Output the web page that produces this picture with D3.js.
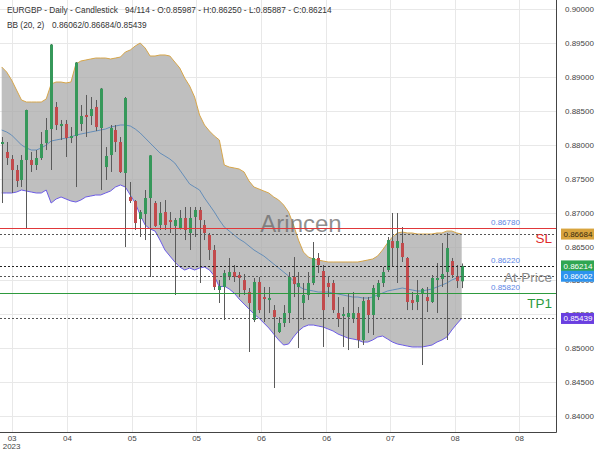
<!DOCTYPE html>
<html><head><meta charset="utf-8">
<script src="https://cdn.jsdelivr.net/npm/d3@7"></script>
<style>body{margin:0;background:#fff;} svg{display:block;font-family:"Liberation Sans",Arial,sans-serif;}</style>
</head><body><svg id="c" width="600" height="450"></svg>
<script>
// ---- data ----
const opens=[0.88013,0.87895,0.87791,0.87629,0.87482,0.87777,0.87777,0.87703,0.87806,0.88027,
0.88234,0.88559,0.88278,0.88308,0.88101,0.88131,0.88308,0.88441,0.88426,0.88559,
0.88249,0.87673,0.87850,0.88219,0.88042,0.87585,0.87231,0.87172,0.86906,0.86980,
0.87216,0.87142,0.86818,0.87009,0.86891,0.86803,0.86773,0.86921,0.86700,0.86936,
0.87039,0.86818,0.86670,0.86449,0.85859,0.85903,0.86050,0.86124,0.86080,0.86006,
0.85829,0.85416,0.85977,0.85755,0.85711,0.85563,0.85239,0.85372,0.85519,0.86050,
0.85903,0.85667,0.85785,0.85962,0.86331,0.86139,0.85962,0.85962,0.85519,0.85475,
0.85460,0.85431,0.85519,0.85121,0.85711,0.85490,0.85755,0.85962,0.86154,0.86581,
0.86478,0.86552,0.86331,0.85711,0.85682,0.85814,0.85755,0.85682,0.86006,0.86021,
0.86124,0.86286,0.86065,0.85987];
const highs=[0.88116,0.88042,0.87850,0.87703,0.87850,0.88520,0.87895,0.87924,0.88190,0.88396,
0.89488,0.88632,0.88367,0.88367,0.88263,0.89222,0.88588,0.88736,0.88706,0.88662,
0.88839,0.87968,0.88293,0.88293,0.88116,0.88706,0.87452,0.87186,0.87039,0.87334,
0.87850,0.87172,0.87157,0.87186,0.87009,0.86921,0.87039,0.87083,0.87083,0.87083,
0.87083,0.86891,0.86700,0.86522,0.86006,0.86154,0.86331,0.86227,0.86124,0.86095,
0.85888,0.86036,0.86050,0.85903,0.85903,0.85637,0.85460,0.85637,0.86124,0.86345,
0.86124,0.85962,0.86124,0.86567,0.86404,0.86227,0.86050,0.86006,0.85755,0.85608,
0.85814,0.85829,0.85608,0.85755,0.85755,0.85932,0.86006,0.86198,0.86641,0.86995,
0.86995,0.86788,0.86345,0.85829,0.86006,0.85888,0.85903,0.86080,0.86257,0.86552,
0.86700,0.86331,0.86227,0.86250];
const lows=[0.87142,0.87703,0.87290,0.87378,0.87378,0.86773,0.87600,0.87629,0.87777,0.87924,
0.87629,0.88219,0.88072,0.87821,0.88027,0.87378,0.88204,0.88116,0.88293,0.88204,
0.87334,0.87482,0.87600,0.87895,0.87585,0.86493,0.87142,0.86744,0.86641,0.86596,
0.86050,0.86788,0.86744,0.86744,0.86700,0.85785,0.86750,0.86596,0.86449,0.86641,
0.85962,0.86596,0.86301,0.85859,0.85667,0.85416,0.86006,0.85977,0.85755,0.85785,
0.84944,0.85386,0.85519,0.85386,0.85519,0.84413,0.85224,0.85313,0.85372,0.85755,
0.85003,0.85416,0.85711,0.85932,0.86109,0.85018,0.85755,0.85519,0.85313,0.85018,
0.84973,0.85372,0.85003,0.85047,0.85224,0.85195,0.85711,0.85903,0.86124,0.86198,
0.85962,0.86272,0.85563,0.85563,0.85563,0.84752,0.85534,0.85667,0.85519,0.85903,
0.85121,0.86036,0.85888,0.85887];
const closes=[0.88042,0.87806,0.87629,0.87467,0.87777,0.88514,0.87703,0.87806,0.88013,0.88219,
0.89480,0.88293,0.88308,0.88101,0.88131,0.89215,0.88426,0.88411,0.88529,0.88263,
0.88830,0.87836,0.88249,0.88042,0.87600,0.88691,0.87172,0.86847,0.87009,0.87216,
0.87845,0.86803,0.86995,0.86818,0.86862,0.86891,0.86921,0.86744,0.86921,0.87039,
0.86891,0.86700,0.86449,0.85903,0.85918,0.86109,0.86124,0.86050,0.86036,0.85859,
0.85667,0.85977,0.85563,0.85726,0.85741,0.85460,0.85372,0.85519,0.86050,0.85947,
0.85962,0.85785,0.85962,0.86331,0.86227,0.85563,0.85903,0.85563,0.85431,0.85504,
0.85519,0.85519,0.85121,0.85696,0.85490,0.85888,0.85962,0.86124,0.86596,0.86478,
0.86581,0.86345,0.85682,0.85667,0.85785,0.85873,0.85696,0.86036,0.86036,0.86095,
0.86478,0.86080,0.85991,0.86214];
const bbUpper=[0.89149,0.89075,0.88957,0.88809,0.88662,0.88632,0.88632,0.88632,0.88632,0.88677,
0.88898,0.88927,0.88927,0.88913,0.88927,0.89193,0.89237,0.89252,0.89267,0.89281,
0.89281,0.89281,0.89267,0.89281,0.89296,0.89370,0.89400,0.89459,0.89503,0.89429,
0.89311,0.89311,0.89326,0.89326,0.89311,0.89222,0.89134,0.88986,0.88868,0.88706,
0.88441,0.88293,0.88204,0.88131,0.88072,0.87703,0.87673,0.87659,0.87644,0.87600,
0.87467,0.87378,0.87349,0.87319,0.87290,0.87231,0.87186,0.87113,0.87009,0.86818,
0.86596,0.86419,0.86345,0.86316,0.86301,0.86286,0.86272,0.86272,0.86272,0.86272,
0.86272,0.86272,0.86272,0.86286,0.86301,0.86316,0.86360,0.86449,0.86552,0.86641,
0.86700,0.86714,0.86700,0.86700,0.86685,0.86685,0.86685,0.86685,0.86700,0.86700,
0.86729,0.86729,0.86700,0.86684];
const bbMiddle=[0.88219,0.88190,0.88145,0.88072,0.87998,0.87954,0.87924,0.87924,0.87954,0.87998,
0.88057,0.88072,0.88086,0.88101,0.88116,0.88145,0.88160,0.88175,0.88190,0.88204,
0.88219,0.88234,0.88263,0.88278,0.88293,0.88293,0.88278,0.88234,0.88175,0.88101,
0.88027,0.87954,0.87880,0.87836,0.87791,0.87732,0.87629,0.87526,0.87422,0.87378,
0.87334,0.87216,0.87113,0.87009,0.86891,0.86788,0.86729,0.86670,0.86611,0.86567,
0.86508,0.86449,0.86404,0.86360,0.86301,0.86242,0.86183,0.86124,0.86065,0.85991,
0.85918,0.85873,0.85859,0.85844,0.85829,0.85829,0.85829,0.85814,0.85800,0.85785,
0.85770,0.85755,0.85755,0.85741,0.85741,0.85755,0.85785,0.85814,0.85844,0.85859,
0.85873,0.85888,0.85873,0.85859,0.85844,0.85844,0.85859,0.85873,0.85903,0.85932,
0.85962,0.86006,0.86036,0.86062];
const bbLower=[0.87290,0.87290,0.87290,0.87304,0.87334,0.87319,0.87304,0.87290,0.87290,0.87334,
0.87142,0.87201,0.87231,0.87201,0.87172,0.87157,0.87186,0.87231,0.87245,0.87260,
0.87260,0.87290,0.87319,0.87378,0.87408,0.87378,0.87260,0.87142,0.86965,0.86818,
0.86759,0.86729,0.86596,0.86449,0.86360,0.86272,0.86198,0.86154,0.86183,0.86154,
0.86183,0.86198,0.86154,0.86065,0.85903,0.85918,0.85873,0.85814,0.85726,0.85652,
0.85578,0.85504,0.85445,0.85372,0.85298,0.85209,0.85121,0.85047,0.85062,0.85165,
0.85254,0.85313,0.85342,0.85342,0.85327,0.85313,0.85283,0.85254,0.85209,0.85180,
0.85150,0.85136,0.85121,0.85091,0.85091,0.85121,0.85165,0.85180,0.85136,0.85091,
0.85062,0.85047,0.85032,0.85018,0.85018,0.85018,0.85032,0.85047,0.85091,0.85121,
0.85165,0.85268,0.85357,0.85439];
const xTickPos=[2,13.2,26.3,39.3,52.4,65.6,78.5,91.6,104.6];
const xTickLabels=["03","04","05","05","06","06","07","08","08"];
const xYearLabel="2023";
const yTicks=[0.84,0.845,0.85,0.855,0.86,0.865,0.87,0.875,0.88,0.885,0.89,0.895,0.90];
const slLevel=0.8678, entryLevel=0.8622, tpLevel=0.8582;

// ---- layout ----
const plotR=556, plotB=432;
const x=d3.scaleLinear().domain([0,93]).range([1.7,461.7]);
const y=d3.scaleLinear().domain([0.84,0.90]).range([416,9.3]);
const svg=d3.select("#c");
const fmt=d3.format(".5f");
const px=v=>Math.round(y(v))+0.5;
const idx=d3.range(opens.length);

// grid
const grid=svg.append("g");
grid.selectAll(".hg").data(yTicks).join("line").attr("x1",0).attr("x2",plotR)
  .attr("y1",px).attr("y2",px).attr("stroke","#e8e8e8");
grid.selectAll(".vg").data(xTickPos).join("line").attr("y1",0).attr("y2",plotB)
  .attr("x1",d=>Math.round(x(d))+0.5).attr("x2",d=>Math.round(x(d))+0.5).attr("stroke","#e8e8e8");

// bollinger band
svg.append("path").datum(idx)
  .attr("d",d3.area().x(i=>x(i)).y0(i=>y(bbLower[i])).y1(i=>y(bbUpper[i])))
  .attr("fill","#a6a6a6").attr("fill-opacity",0.72);
const ln=(arr)=>d3.line().x(i=>x(i)).y(i=>y(arr[i]));
svg.append("path").datum(idx).attr("d",ln(bbUpper)).attr("fill","none").attr("stroke","#d7a64a").attr("stroke-width",1);
svg.append("path").datum(idx).attr("d",ln(bbLower)).attr("fill","none").attr("stroke","#6c5be6").attr("stroke-width",1);
svg.append("path").datum(idx).attr("d",ln(bbMiddle)).attr("fill","none").attr("stroke","#5a88b8").attr("stroke-width",0.9);

// watermark
svg.append("text").attr("x",301).attr("y",232).attr("text-anchor","middle")
  .attr("font-size",24).attr("fill","#6a6a6a").attr("fill-opacity",0.75).text("Arincen");

// candles
const cg=svg.append("g");
idx.forEach(i=>{
  const cx=Math.round(x(i));
  const up=closes[i]>=opens[i];
  cg.append("line").attr("x1",cx+0.5).attr("x2",cx+0.5).attr("y1",y(highs[i])).attr("y2",y(lows[i]))
    .attr("stroke","#5a5a5a").attr("stroke-width",1);
  const top=y(Math.max(opens[i],closes[i])), bot=y(Math.min(opens[i],closes[i]));
  cg.append("rect").attr("x",cx-1).attr("width",3).attr("y",top).attr("height",Math.max(1.2,bot-top))
    .attr("fill",up?"#36985a":"#c24a4c");
});

// level lines
const lv=svg.append("g");
const hline=(v,color,dash)=>lv.append("line").attr("x1",0).attr("x2",plotR).attr("y1",px(v)).attr("y2",px(v))
  .attr("stroke",color).attr("stroke-width",1).attr("stroke-dasharray",dash||null);
hline(bbUpper[bbUpper.length-1],"#555","2,2");
hline(bbMiddle[bbMiddle.length-1],"#555","2,2");
hline(bbLower[bbLower.length-1],"#555","2,2");
hline(entryLevel,"#222","2,2");
hline(slLevel,"#e0383a");
hline(tpLevel,"#2e9a3e");
const vlab=v=>lv.append("text").attr("x",491).attr("y",y(v)-2.4).attr("font-size",8).attr("fill","#5b86e5").text(fmt(v));
vlab(slLevel); vlab(entryLevel); vlab(tpLevel);
lv.append("text").attr("x",552).attr("y",y(slLevel)+15).attr("text-anchor","end").attr("font-size",13.5).attr("fill","#e02a2a").text("SL");
lv.append("text").attr("x",552).attr("y",y(entryLevel)+16).attr("text-anchor","end").attr("font-size",13.5).attr("fill","#8a8a8a").text("At-Price");
lv.append("text").attr("x",552).attr("y",y(tpLevel)+15.5).attr("text-anchor","end").attr("font-size",13.5).attr("fill","#2a9a3e").text("TP1");

// axes
const yAxis=svg.append("g").attr("transform",`translate(${plotR},0)`)
  .call(d3.axisRight(y).tickValues(yTicks).tickFormat(fmt).tickSize(0).tickPadding(9));
yAxis.select(".domain").remove();
yAxis.selectAll("text").attr("font-size",8).attr("fill","#444").attr("font-family","Liberation Sans,Arial,sans-serif");
const xAxis=svg.append("g").attr("transform",`translate(0,${plotB})`)
  .call(d3.axisBottom(x).tickValues(xTickPos).tickFormat((d,i)=>xTickLabels[i]).tickSize(0).tickPadding(3));
xAxis.select(".domain").remove();
xAxis.selectAll("text").attr("font-size",8).attr("fill","#444").attr("font-family","Liberation Sans,Arial,sans-serif");
svg.append("text").attr("x",x(xTickPos[0])).attr("y",449).attr("text-anchor","middle")
  .attr("font-size",8).attr("fill","#444").text(xYearLabel);
svg.append("line").attr("x1",plotR+0.5).attr("x2",plotR+0.5).attr("y1",0).attr("y2",plotB+0.5).attr("stroke","#444");
svg.append("line").attr("x1",0).attr("x2",plotR+0.5).attr("y1",plotB+0.5).attr("y2",plotB+0.5).attr("stroke","#444");

// price badges
const n=closes.length-1;
const badges=[
  {v:bbUpper[n],bg:"#d8a43e",fg:"#3a2a10"},
  {v:closes[n],bg:"#2fa652",fg:"#fff"},
  {v:bbMiddle[n],bg:"#2d93ee",fg:"#fff"},
  {v:bbLower[n],bg:"#6a3fe0",fg:"#fff"}];
const bg=svg.append("g");
badges.forEach(b=>{
  bg.append("rect").attr("x",561).attr("y",y(b.v)-5.5).attr("width",33).attr("height",11).attr("fill",b.bg);
  bg.append("text").attr("x",563.5).attr("y",y(b.v)+3).attr("font-size",8).attr("fill",b.fg).text(fmt(b.v));
});

// title
const t=svg.append("g").attr("font-size",8.3).attr("fill","#333");
t.append("text").attr("x",7).attr("y",13).text("EURGBP - Daily - Candlestick");
t.append("text").attr("x",125).attr("y",13).text(`94/114 - O:${fmt(opens[n])} - H:${fmt(highs[n])} - L:${fmt(lows[n])} - C:${fmt(closes[n])}`);
t.append("text").attr("x",7).attr("y",28).text("BB (20, 2)");
t.append("text").attr("x",52).attr("y",28).text(`${fmt(bbMiddle[n])}/${fmt(bbUpper[n])}/${fmt(bbLower[n])}`);
</script></body></html>
